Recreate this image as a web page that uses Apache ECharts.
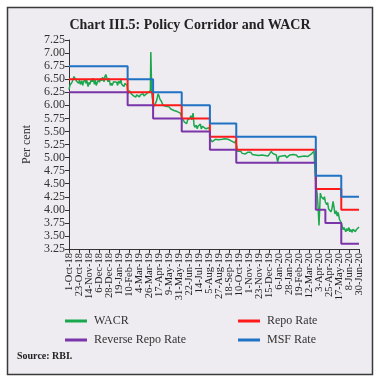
<!DOCTYPE html>
<html><head><meta charset="utf-8">
<script src="https://cdn.jsdelivr.net/npm/echarts@6/dist/echarts.min.js"></script>
<style>html,body{margin:0;padding:0;background:#fff}#c{width:380px;height:382px}</style>
</head><body><div id="c"></div>
<script>
const START = '2018-10-01';
const END = '2020-06-30';
const TICK_STEP_DAYS = 22;
const Y_MIN = 3.25, Y_MAX = 7.25, Y_STEP = 0.25;
const SERIES_NAMES = ['WACR', 'Repo Rate', 'Reverse Repo Rate', 'MSF Rate'];

const repoRate = [['2018-10-01',6.50],['2019-02-07',6.25],['2019-04-04',6.00],['2019-06-06',5.75],['2019-08-07',5.40],['2019-10-04',5.15],['2020-03-27',4.40],['2020-05-22',4.00],['2020-06-30',4.00]];
const reverseRepoRate = [['2018-10-01',6.25],['2019-02-07',6.00],['2019-04-04',5.75],['2019-06-06',5.50],['2019-08-07',5.15],['2019-10-04',4.90],['2020-03-27',4.00],['2020-04-17',3.75],['2020-05-22',3.35],['2020-06-30',3.35]];
const msfRate = [['2018-10-01',6.75],['2019-02-07',6.50],['2019-04-04',6.25],['2019-06-06',6.00],['2019-08-07',5.65],['2019-10-04',5.40],['2020-03-27',4.65],['2020-05-22',4.25],['2020-06-30',4.25]];

const wacr = [
['2018-10-01',6.30],['2018-10-03',6.38],['2018-10-05',6.35],['2018-10-08',6.45],['2018-10-10',6.50],['2018-10-12',6.55],['2018-10-15',6.52],['2018-10-17',6.47],['2018-10-19',6.50],['2018-10-22',6.42],['2018-10-24',6.48],['2018-10-26',6.40],['2018-10-29',6.47],['2018-10-31',6.38],
['2018-11-02',6.45],['2018-11-05',6.50],['2018-11-07',6.42],['2018-11-09',6.48],['2018-11-12',6.36],['2018-11-14',6.44],['2018-11-16',6.40],['2018-11-19',6.50],['2018-11-21',6.45],['2018-11-23',6.52],['2018-11-26',6.40],['2018-11-28',6.48],['2018-11-30',6.38],
['2018-12-03',6.45],['2018-12-05',6.50],['2018-12-07',6.44],['2018-12-10',6.52],['2018-12-12',6.47],['2018-12-14',6.54],['2018-12-17',6.45],['2018-12-19',6.55],['2018-12-21',6.59],['2018-12-24',6.50],['2018-12-26',6.45],['2018-12-28',6.52],['2018-12-31',6.38],
['2019-01-02',6.42],['2019-01-04',6.38],['2019-01-07',6.45],['2019-01-09',6.48],['2019-01-11',6.42],['2019-01-14',6.44],['2019-01-16',6.38],['2019-01-18',6.46],['2019-01-21',6.42],['2019-01-23',6.49],['2019-01-25',6.40],['2019-01-28',6.43],['2019-01-30',6.36],
['2019-02-01',6.42],['2019-02-04',6.40],['2019-02-06',6.38],['2019-02-08',6.22],['2019-02-11',6.28],['2019-02-13',6.30],['2019-02-15',6.22],['2019-02-18',6.25],['2019-02-20',6.18],['2019-02-22',6.20],['2019-02-25',6.16],['2019-02-27',6.20],
['2019-03-01',6.18],['2019-03-05',6.16],['2019-03-07',6.20],['2019-03-11',6.17],['2019-03-13',6.22],['2019-03-15',6.18],['2019-03-19',6.20],['2019-03-22',6.23],['2019-03-26',6.25],['2019-03-29',6.28],['2019-03-30',7.02],['2019-04-01',6.25],
['2019-04-02',6.15],['2019-04-04',6.05],['2019-04-05',5.97],['2019-04-08',6.00],['2019-04-10',6.05],['2019-04-12',6.10],['2019-04-15',6.22],['2019-04-17',6.18],['2019-04-19',6.12],['2019-04-22',6.08],['2019-04-24',6.05],['2019-04-26',6.00],['2019-04-29',6.02],
['2019-05-02',5.98],['2019-05-06',5.95],['2019-05-09',5.97],['2019-05-13',5.93],['2019-05-16',5.95],['2019-05-20',5.90],['2019-05-23',5.92],['2019-05-27',5.88],['2019-05-30',5.90],
['2019-06-03',5.85],['2019-06-05',5.88],['2019-06-07',5.75],['2019-06-10',5.72],['2019-06-12',5.68],['2019-06-14',5.70],['2019-06-17',5.65],['2019-06-19',5.72],['2019-06-21',5.70],['2019-06-24',5.75],['2019-06-26',5.80],['2019-06-28',5.72],
['2019-07-01',5.85],['2019-07-03',5.62],['2019-07-05',5.58],['2019-07-08',5.62],['2019-07-10',5.55],['2019-07-12',5.60],['2019-07-15',5.58],['2019-07-17',5.64],['2019-07-19',5.55],['2019-07-22',5.60],['2019-07-24',5.57],['2019-07-26',5.62],['2019-07-29',5.55],['2019-07-31',5.58],
['2019-08-02',5.54],['2019-08-05',5.57],['2019-08-07',5.50],['2019-08-08',5.35],['2019-08-12',5.30],['2019-08-14',5.33],['2019-08-16',5.32],['2019-08-19',5.35],['2019-08-21',5.33],['2019-08-23',5.36],['2019-08-26',5.34],['2019-08-28',5.37],['2019-08-30',5.32],
['2019-09-03',5.35],['2019-09-05',5.33],['2019-09-09',5.36],['2019-09-11',5.34],['2019-09-13',5.37],['2019-09-16',5.35],['2019-09-18',5.33],['2019-09-20',5.36],['2019-09-23',5.32],['2019-09-25',5.35],['2019-09-27',5.30],['2019-10-01',5.28],['2019-10-03',5.33],
['2019-10-07',5.12],['2019-10-10',5.10],['2019-10-14',5.12],['2019-10-17',5.08],['2019-10-21',5.10],['2019-10-24',5.07],['2019-10-29',5.10],['2019-11-01',5.08],['2019-11-05',5.10],['2019-11-08',5.06],['2019-11-12',5.08],['2019-11-15',5.05],['2019-11-19',5.08],['2019-11-22',5.04],['2019-11-26',5.07],['2019-11-29',5.05],
['2019-12-03',5.07],['2019-12-06',5.04],['2019-12-10',5.06],['2019-12-13',5.03],['2019-12-17',5.08],['2019-12-20',5.12],['2019-12-23',5.08],['2019-12-27',5.10],['2019-12-31',5.05],['2020-01-03',4.92],['2020-01-06',5.02],['2020-01-09',5.00],['2020-01-13',5.03],['2020-01-16',5.01],['2020-01-20',5.04],['2020-01-23',5.00],['2020-01-27',5.03],['2020-01-30',5.05],
['2020-02-03',5.02],['2020-02-06',5.06],['2020-02-10',5.03],['2020-02-13',5.05],['2020-02-17',5.01],['2020-02-20',5.04],['2020-02-24',5.02],['2020-02-27',5.05],['2020-03-02',5.03],['2020-03-05',5.04],['2020-03-09',5.02],['2020-03-12',5.05],['2020-03-16',5.06],['2020-03-19',5.09],['2020-03-23',5.12],['2020-03-26',5.10],
['2020-03-27',4.50],['2020-03-30',4.30],['2020-04-01',4.05],['2020-04-03',3.70],['2020-04-06',4.32],['2020-04-08',4.25],['2020-04-10',4.28],['2020-04-13',4.20],['2020-04-15',4.25],['2020-04-17',4.15],['2020-04-20',4.10],['2020-04-22',4.14],['2020-04-24',4.02],['2020-04-27',4.05],['2020-04-29',3.96],
['2020-05-01',4.00],['2020-05-04',4.16],['2020-05-06',4.05],['2020-05-08',3.92],['2020-05-11',3.98],['2020-05-13',3.88],['2020-05-15',3.95],['2020-05-18',3.82],['2020-05-20',3.80],['2020-05-22',3.75],['2020-05-26',3.62],['2020-05-28',3.66],['2020-06-01',3.58],['2020-06-03',3.64],['2020-06-05',3.60],['2020-06-08',3.66],['2020-06-10',3.58],['2020-06-12',3.62],['2020-06-15',3.57],['2020-06-17',3.63],['2020-06-19',3.60],['2020-06-22',3.58],['2020-06-24',3.62],['2020-06-26',3.60],['2020-06-30',3.67]
];

const MONTHS = ['Jan','Feb','Mar','Apr','May','Jun','Jul','Aug','Sep','Oct','Nov','Dec'];
function toMs(s){const p=s.split('-').map(Number);return Date.UTC(p[0],p[1]-1,p[2]);}
const T0 = toMs(START);
function dayIdx(s){return (toMs(s)-T0)/86400000;}
function conv(arr){return arr.map(r=>[dayIdx(r[0]), r[1]]);}
function fmtDay(v){const d=new Date(T0+Math.round(v)*86400000);return d.getUTCDate()+'-'+MONTHS[d.getUTCMonth()]+'-'+String(d.getUTCFullYear()).slice(2);}

const FONT = 'Liberation Serif';
const chart = echarts.init(document.getElementById('c'), null, {renderer:'canvas'});
const colors = ['#1ba84c','#ff1a1a','#7a35a8','#1f72c4'];
const SPAN = dayIdx(END);
function legend(name, left, top){
  return {data:[name], left:left, top:top, padding:0, icon:'rect', itemWidth:22, itemHeight:3, itemGap:0,
    textStyle:{fontFamily:FONT, fontSize:12, color:'#333', padding:[0,0,0,2]}};
}
const xLabelStyle = {rotate:90, formatter:fmtDay, fontFamily:FONT, fontSize:10.5, color:'#222', margin:4, hideOverlap:false};
chart.setOption({
  backgroundColor:'#ffffff',
  animation:false,
  color: colors,
  graphic:[{type:'rect', z:-10, shape:{x:7.5,y:7.5,width:365,height:367}, style:{fill:'#eeebf1', stroke:'#3a3a3a', lineWidth:1.5}},
           {type:'text', left:17, top:351, style:{text:'Source: RBI.', font:'bold 10px "Liberation Serif"', fill:'#222'}}],
  title:{text:'Chart III.5: Policy Corridor and WACR', left:'center', top:13,
    textStyle:{fontFamily:FONT, fontSize:14, fontWeight:'bold', color:'#222'}},
  legend:[legend(SERIES_NAMES[0],65,315), legend(SERIES_NAMES[1],238,315), legend(SERIES_NAMES[2],65,334), legend(SERIES_NAMES[3],238,334)],
  grid:{left:69, right:21, top:40, bottom:133, containLabel:false},
  xAxis:[
    {type:'value', position:'bottom', min:0, max:SPAN, interval:TICK_STEP_DAYS,
     axisLine:{lineStyle:{color:'#333',width:1}},
     axisTick:{show:true, length:4, lineStyle:{color:'#333'}},
     splitLine:{show:false},
     axisLabel:Object.assign({}, xLabelStyle, {showMinLabel:false, showMaxLabel:false})},
    {type:'value', position:'bottom', min:0, max:SPAN, interval:SPAN,
     axisLine:{show:false},
     axisTick:{show:true, length:4, lineStyle:{color:'#333'}},
     splitLine:{show:false},
     axisLabel:Object.assign({}, xLabelStyle, {showMinLabel:true, showMaxLabel:true})}
  ],
  yAxis:{type:'value', min:Y_MIN, max:Y_MAX, interval:Y_STEP, name:'Per cent', nameLocation:'middle', nameGap:36,
    nameTextStyle:{fontFamily:FONT, fontSize:12, color:'#333'},
    axisLine:{show:true, lineStyle:{color:'#333',width:1}},
    axisTick:{show:true, length:4, lineStyle:{color:'#333'}},
    splitLine:{show:false},
    axisLabel:{formatter:v=>v.toFixed(2), fontFamily:FONT, fontSize:12, color:'#333', margin:4}},
  series:[
    {name:SERIES_NAMES[0], type:'line', data:conv(wacr), showSymbol:false, lineStyle:{width:1.5, color:colors[0]}, z:2},
    {name:SERIES_NAMES[1], type:'line', step:'end', data:conv(repoRate), showSymbol:false, lineStyle:{width:2, color:colors[1]}, z:3},
    {name:SERIES_NAMES[2], type:'line', step:'end', data:conv(reverseRepoRate), showSymbol:false, lineStyle:{width:2, color:colors[2]}, z:3},
    {name:SERIES_NAMES[3], type:'line', step:'end', data:conv(msfRate), showSymbol:false, lineStyle:{width:2, color:colors[3]}, z:3}
  ]
});
</script></body></html>
